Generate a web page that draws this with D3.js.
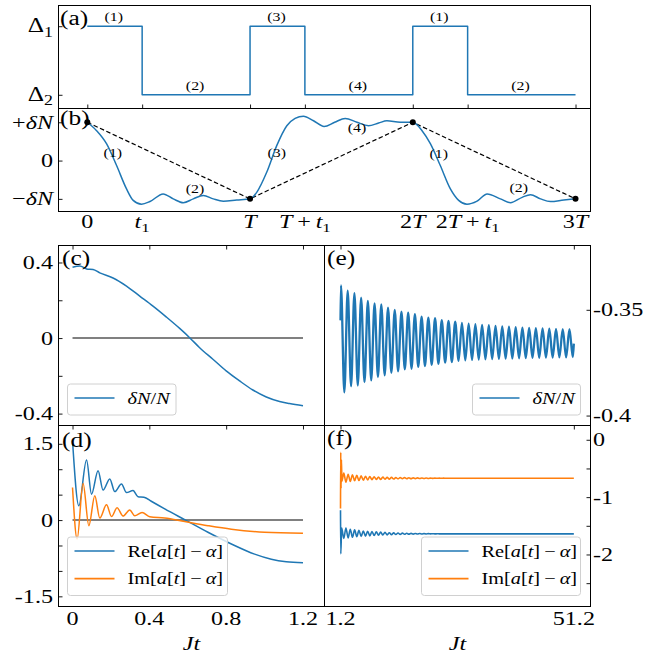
<!DOCTYPE html>
<html lang="en">
<head>
<meta charset="UTF-8" />
<title>Driving protocol and dynamics</title>
<script src="https://d3js.org/d3.v7.min.js"></script>
<style>
  body { margin: 0; background: #fff; }
  svg { display: block; }
  text { font-family: "Liberation Serif", "Times New Roman", serif; fill: #000; }
</style>
</head>
<body>
<svg width="660" height="657"></svg>
<script>
// ---------- data ----------
// (a) step protocol, time in units of T
const t1 = 0.337;
const stepTimes = [0, t1, 1, 1 + t1, 2, 2 + t1, 3];
const stepLevels = [1, 0, 1, 0, 1, 0];          // 1 = Δ1, 0 = Δ2
const stageLabels = ["(1)", "(2)", "(3)", "(4)", "(1)", "(2)"];

// (b) population imbalance, in units of δN
const bT = [0, 0.057, 0.118, 0.18, 0.241, 0.282, 0.333, 0.385, 0.466, 0.528, 0.59, 0.651, 0.713, 0.774, 0.836, 0.918, 1.0,
            1.041, 1.103, 1.164, 1.226, 1.277, 1.328, 1.39, 1.455, 1.52, 1.585, 1.657, 1.728, 1.79, 1.841, 1.923, 2.0,
            2.057, 2.108, 2.169, 2.231, 2.282, 2.333, 2.395, 2.457, 2.538, 2.6, 2.672, 2.723, 2.785, 2.846, 2.928, 3.0];
const bV = [1.0, 0.78, 0.44, -0.13, -0.74, -1.04, -1.14, -1.07, -0.87, -1.0, -1.10, -1.0, -0.91, -1.0, -1.06, -1.03, -1.0,
            -0.83, -0.30, 0.39, 0.91, 1.10, 1.16, 1.04, 0.89, 1.0, 1.10, 1.0, 0.91, 0.98, 1.04, 1.0, 1.0,
            0.78, 0.44, -0.13, -0.74, -1.04, -1.14, -1.06, -0.87, -1.0, -1.10, -0.96, -0.89, -1.0, -1.07, -1.03, -1.0];
const bDashT = [0, 1, 2, 3];
const bDashV = [1, -1, 1, -1];
const bLabelT = [0.157, 0.662, 1.164, 1.657, 2.159, 2.651];
const bLabelV = [0.22, -0.73, 0.22, 0.87, 0.18, -0.70];
const bTickLabels = [
  [["0", ""]],
  [["t", "i"], ["1", "sub"]],
  [["T", "i"]],
  [["T", "i"], ["\u2009+\u2009", ""], ["t", "i"], ["1", "sub"]],
  [["2", ""], ["T", "i"]],
  [["2", ""], ["T", "i"], ["\u2009+\u2009", ""], ["t", "i"], ["1", "sub"]],
  [["3", ""], ["T", "i"]]
];

// (c) δN/N for 0 <= Jt <= 1.2
const cT = [0, 0.038, 0.073, 0.107, 0.142, 0.211, 0.281, 0.35, 0.419, 0.489, 0.558, 0.61, 0.662, 0.731, 0.80, 0.87, 0.939, 1.009, 1.078, 1.13, 1.2];
const cV = [0.375, 0.382, 0.366, 0.363, 0.345, 0.318, 0.275, 0.222, 0.169, 0.111, 0.051, 0.002, -0.051, -0.112, -0.174, -0.227, -0.275, -0.312, -0.336, -0.347, -0.359];

// (d) Re / Im [a(t) - α]
const dReT = [0, 0.033, 0.073, 0.099, 0.133, 0.159, 0.194, 0.22, 0.255, 0.281, 0.315, 0.341, 0.372, 0.41, 0.48, 0.593, 0.705, 0.827, 0.948, 1.035, 1.113, 1.2];
const dReV = [1.56, 0.28, 1.18, 0.51, 0.97, 0.59, 0.81, 0.56, 0.71, 0.54, 0.58, 0.46, 0.45, 0.37, 0.22, -0.01, -0.24, -0.47, -0.67, -0.77, -0.82, -0.84];
const dImT = [0, 0.024, 0.055, 0.085, 0.116, 0.142, 0.177, 0.203, 0.232, 0.263, 0.298, 0.324, 0.362, 0.402, 0.48, 0.584, 0.705, 0.827, 1.0, 1.2];
const dImV = [0.64, -0.37, 0.72, -0.11, 0.48, 0.04, 0.30, 0.07, 0.24, 0.08, 0.20, 0.085, 0.15, 0.065, 0.04, -0.03, -0.11, -0.18, -0.24, -0.26];

// (e) δN/N for 1.2 <= Jt <= 51.2 : successive maxima / minima of the fast oscillation
const eStart = [1.2, -0.355];
const eFirst = 1.3, ePeriod = 1.44;
const eTop = [-0.3385, -0.3410, -0.3421, -0.3442, -0.3458, -0.3470, -0.3474, -0.3490, -0.3501, -0.3509, -0.3513, -0.3521,
              -0.3532, -0.3537, -0.3540, -0.3549, -0.3553, -0.3556, -0.3562, -0.3565, -0.3568, -0.3571, -0.3573, -0.3576,
              -0.3578, -0.3580, -0.3582, -0.3584, -0.3585, -0.3587, -0.3588, -0.3589, -0.3590, -0.3591, -0.3592];
const eBot = [-0.3890, -0.3861, -0.3858, -0.3842, -0.3834, -0.3818, -0.3810, -0.3798, -0.3791, -0.3782, -0.3779, -0.3770,
              -0.3766, -0.3760, -0.3755, -0.3750, -0.3747, -0.3741, -0.3739, -0.3737, -0.3735, -0.3734, -0.3733, -0.3732,
              -0.3731, -0.3730, -0.3729, -0.3728, -0.3727, -0.3727, -0.3726, -0.3726, -0.3725, -0.3725, -0.3724];
const eEnd = [51.2, -0.366];

// (f) Re / Im [a(t) - α] for 1.2 <= Jt <= 51.2
const fReHeadT = [1.2, 1.26, 1.45];
const fReHeadV = [-1.23, -1.99, -1.54];
const fImHeadT = [1.2, 1.25, 1.32, 1.4, 1.5];
const fImHeadV = [-1.2, -0.22, -0.85, -0.35, -0.72];
const fFirst = 1.9, fPeriod = 0.93;
const fReBot = [-1.72, -1.71, -1.70, -1.69, -1.685, -1.68, -1.675, -1.67, -1.665, -1.66, -1.658, -1.655, -1.652, -1.65, -1.648,
                -1.646, -1.645, -1.644, -1.643, -1.642, -1.641, -1.641, -1.640, -1.640, -1.640, -1.640, -1.640, -1.640, -1.640, -1.640];
const fReTop = [-1.54, -1.56, -1.57, -1.58, -1.59, -1.595, -1.60, -1.605, -1.61, -1.615, -1.62, -1.622, -1.625, -1.628, -1.63,
                -1.632, -1.634, -1.635, -1.636, -1.637, -1.638, -1.639, -1.640, -1.640, -1.640, -1.640, -1.640, -1.640, -1.640, -1.640];
const fImTop = [-0.58, -0.60, -0.61, -0.62, -0.63, -0.635, -0.64, -0.645, -0.65, -0.65, -0.655, -0.655, -0.66, -0.66, -0.66,
                -0.662, -0.664, -0.665, -0.666, -0.667, -0.668, -0.668, -0.669, -0.669, -0.67, -0.67, -0.67, -0.67, -0.67, -0.67];
const fImBot = [-0.74, -0.725, -0.715, -0.71, -0.705, -0.70, -0.695, -0.692, -0.69, -0.688, -0.686, -0.684, -0.682, -0.68, -0.679,
                -0.678, -0.677, -0.676, -0.675, -0.674, -0.673, -0.672, -0.671, -0.671, -0.67, -0.67, -0.67, -0.67, -0.67, -0.67];
const fReEnd = [51.2, -1.64];
const fImEnd = [51.2, -0.67];

// ticks
const cdTicks = [0, 0.4, 0.8, 1.2];
const efTicks = [1.2, 51.2];
const cTicks = [-0.4, -0.2, 0, 0.2, 0.4], cLabels = ["-0.4", "", "0", "", "0.4"];
const dTicks = [-1.5, -1, -0.5, 0, 0.5, 1, 1.5], dLabels = ["-1.5", "", "", "0", "", "", "1.5"];
const eTicks = [-0.4, -0.35], eLabels = ["-0.4", "-0.35"];
const fTicks = [-2.5, -2, -1.5, -1, -0.5, 0], fLabels = ["", "-2", "", "-1", "", "0"];

// ---------- layout ----------
const BLUE = "#1f77b4", ORANGE = "#ff7f0e", GRAY = "#808080";
const SX = 1.27;            // glyphs in the reference are stretched horizontally
const svg = d3.select("svg");

const L = 58.5, M = 324.5, R = 590.5;
const xAB = d3.scaleLinear().domain([-0.177, 3.092]).range([L, R]);
const yA = d3.scaleLinear().domain([-0.2, 1.302]).range([108.5, 5.5]);
const yB = d3.scaleLinear().domain([-1.33, 1.36]).range([211.5, 108.5]);
const xCD = d3.scaleLinear().domain([-0.073, 1.312]).range([L, M]);
const yC = d3.scaleLinear().domain([-0.463, 0.49]).range([425.5, 245.5]);
const yD = d3.scaleLinear().domain([-1.70, 1.86]).range([606.5, 425.5]);
const xEF = d3.scaleLinear().domain([-2.23, 54.77]).range([M, R]);
const yE = d3.scaleLinear().domain([-0.4047, -0.3196]).range([425.5, 245.5]);
const yF = d3.scaleLinear().domain([-2.907, 0.249]).range([606.5, 425.5]);

function rich(g, x, y, parts, o = {}) {
  if (typeof parts === "string") parts = [[parts, ""]];
  const size = o.size || 19;
  const t = g.append("text")
    .attr("transform", `translate(${x},${y}) scale(${SX},1)`)
    .attr("text-anchor", o.anchor || "start")
    .attr("font-size", size);
  let down = false;
  parts.forEach(([s, f]) => {
    const ts = t.append("tspan").text(s);
    if (f === "i") ts.attr("font-style", "italic");
    if (f === "sub") {
      ts.attr("font-size", size * 0.7).attr("dy", size * 0.22);
      down = true;
    } else if (down) {
      ts.attr("dy", -size * 0.22);
      down = false;
    }
  });
  return t;
}

let clipId = 0;
function panel(xs, ys) {
  const [x0, x1] = xs.range(), [y0, y1] = [ys.range()[1], ys.range()[0]];
  const id = "clip" + (clipId++);
  svg.append("clipPath").attr("id", id)
    .append("rect").attr("x", x0).attr("y", y0).attr("width", x1 - x0).attr("height", y1 - y0);
  const g = svg.append("g").attr("clip-path", `url(#${id})`);
  return { g, x0, x1, y0, y1 };
}

function frame(p) {
  svg.append("rect")
    .attr("x", p.x0).attr("y", p.y0)
    .attr("width", p.x1 - p.x0).attr("height", p.y1 - p.y0)
    .attr("fill", "none").attr("stroke", "#000").attr("stroke-width", 1);
}

function ticks(axis, values, tx, ty) {
  const g = svg.append("g").attr("transform", `translate(${tx},${ty})`)
    .call(axis.tickValues(values).tickSize(-4).tickSizeOuter(0).tickFormat(""));
  g.select(".domain").remove();
  g.selectAll(".tick line").attr("stroke", "#000").attr("stroke-width", 0.9);
}

function line(g, pts, xs, ys, color, w = 1.5, curve = d3.curveMonotoneX) {
  return g.append("path").datum(pts)
    .attr("d", d3.line().x(d => xs(d[0])).y(d => ys(d[1])).curve(curve))
    .attr("fill", "none").attr("stroke", color).attr("stroke-width", w)
    .attr("stroke-linejoin", "round");
}

function train(first, period, tops, bots) {
  const pts = [];
  tops.forEach((v, i) => {
    pts.push([first + i * period, v]);
    pts.push([first + (i + 0.5) * period, bots[i]]);
  });
  return pts;
}

function legend(x, y, w, h, items) {
  const g = svg.append("g").attr("transform", `translate(${x},${y})`);
  g.append("rect").attr("width", w).attr("height", h).attr("rx", 3)
    .attr("fill", "#fff").attr("fill-opacity", 0.8)
    .attr("stroke", "#d0d0d0").attr("stroke-width", 1);
  items.forEach((it, i) => {
    const cy = 14 + i * 27.6;
    g.append("line").attr("x1", 7).attr("x2", 47).attr("y1", cy).attr("y2", cy)
      .attr("stroke", it.color).attr("stroke-width", 1.6);
    rich(g, 60, cy + 5.5, it.text, { size: 16 });
  });
}

// ---------- (a) ----------
const pA = panel(xAB, yA);
const stepPts = stepLevels.map((v, i) => [stepTimes[i], v]).concat([[stepTimes[6], stepLevels[5]]]);
line(pA.g, stepPts, xAB, yA, BLUE, 1.5, d3.curveStepAfter);
stageLabels.forEach((s, i) => {
  const mid = (stepTimes[i] + stepTimes[i + 1]) / 2;
  rich(svg, xAB(mid) - 1, yA(stepLevels[i]) - 5, s, { size: 12.5, anchor: "middle" });
});
frame(pA);
ticks(d3.axisLeft(yA), [0, 1], L, 0);
ticks(d3.axisBottom(xAB), stepTimes, 0, pA.y1);
rich(svg, 53, yA(1) + 6, [["Δ", ""], ["1", "sub"]], { size: 20, anchor: "end" });
rich(svg, 53, yA(0) + 6, [["Δ", ""], ["2", "sub"]], { size: 20, anchor: "end" });
rich(svg, 60, 24.5, "(a)", { size: 20 });

// ---------- (b) ----------
const pB = panel(xAB, yB);
pB.g.append("path").datum(d3.zip(bDashT, bDashV))
  .attr("d", d3.line().x(d => xAB(d[0])).y(d => yB(d[1])))
  .attr("fill", "none").attr("stroke", "#000").attr("stroke-width", 1.2)
  .attr("stroke-dasharray", "4.5,2.5");
line(pB.g, d3.zip(bT, bV), xAB, yB, BLUE, 1.5);
svg.append("g").selectAll("circle").data(d3.zip(bDashT, bDashV)).join("circle")
  .attr("cx", d => xAB(d[0])).attr("cy", d => yB(d[1])).attr("r", 3).attr("fill", "#000");
bLabelT.forEach((t, i) => rich(svg, xAB(t), yB(bLabelV[i]) + 4.5, stageLabels[i], { size: 12.5, anchor: "middle" }));
frame(pB);
ticks(d3.axisLeft(yB), [-1, 0, 1], L, 0);
rich(svg, 53, yB(1) + 6.5, [["+", ""], ["δN", "i"]], { anchor: "end" });
rich(svg, 53, yB(0) + 6.5, "0", { anchor: "end" });
rich(svg, 53, yB(-1) + 6.5, [["\u2212", ""], ["δN", "i"]], { anchor: "end" });
stepTimes.forEach((t, i) => rich(svg, xAB(t), 228, bTickLabels[i], { anchor: "middle" }));
rich(svg, 60, 125, "(b)", { size: 20 });

// ---------- (c) ----------
const pC = panel(xCD, yC);
line(pC.g, [[0, 0], [1.2, 0]], xCD, yC, GRAY, 2, d3.curveLinear);
line(pC.g, d3.zip(cT, cV), xCD, yC, BLUE, 1.5);
frame(pC);
ticks(d3.axisLeft(yC), cTicks, L, 0);
ticks(d3.axisTop(xCD), cdTicks, 0, pC.y0);
cTicks.forEach((v, i) => cLabels[i] && rich(svg, 53, yC(v) + 6.5, cLabels[i], { anchor: "end" }));
rich(svg, 62, 265, "(c)", { size: 20 });
legend(67.5, 384, 108.5, 31, [{ color: BLUE, text: [["δN", "i"], ["/", ""], ["N", "i"]] }]);

// ---------- (d) ----------
const pD = panel(xCD, yD);
line(pD.g, [[0, 0], [1.2, 0]], xCD, yD, GRAY, 2, d3.curveLinear);
line(pD.g, d3.zip(dReT, dReV), xCD, yD, BLUE, 1.5);
line(pD.g, d3.zip(dImT, dImV), xCD, yD, ORANGE, 1.5);
frame(pD);
ticks(d3.axisLeft(yD), dTicks, L, 0);
ticks(d3.axisTop(xCD), cdTicks, 0, pD.y0);
dTicks.forEach((v, i) => dLabels[i] && rich(svg, 53, yD(v) + 6.5, dLabels[i], { anchor: "end" }));
cdTicks.forEach(v => rich(svg, xCD(v), 625, String(v), { anchor: "middle" }));
rich(svg, (pD.x0 + pD.x1) / 2, 650, [["Jt", "i"]], { anchor: "middle" });
rich(svg, 62, 447, "(d)", { size: 20 });

const reaLegend = [["Re[", ""], ["a", "i"], ["[", ""], ["t", "i"], ["]\u2009\u2212\u2009", ""], ["α", "i"], ["]", ""]];
const imaLegend = [["Im[", ""], ["a", "i"], ["[", ""], ["t", "i"], ["]\u2009\u2212\u2009", ""], ["α", "i"], ["]", ""]];
legend(67.5, 537, 160, 58.5, [{ color: BLUE, text: reaLegend }, { color: ORANGE, text: imaLegend }]);

// ---------- (e) ----------
const pE = panel(xEF, yE);
line(pE.g, [eStart].concat(train(eFirst, ePeriod, eTop, eBot), [eEnd]), xEF, yE, BLUE, 2.3);
frame(pE);
ticks(d3.axisRight(yE), eTicks, R, 0);
ticks(d3.axisTop(xEF), efTicks, 0, pE.y0);
eTicks.forEach((v, i) => rich(svg, 593, yE(v) + 6.5, eLabels[i]));
rich(svg, 327, 265, "(e)", { size: 20 });
legend(472.5, 384, 108, 31, [{ color: BLUE, text: [["δN", "i"], ["/", ""], ["N", "i"]] }]);

// ---------- (f) ----------
const pF = panel(xEF, yF);
const fRe = d3.zip(fReHeadT, fReHeadV).concat(train(fFirst, fPeriod, fReBot, fReTop), [fReEnd]);
const fIm = d3.zip(fImHeadT, fImHeadV).concat(train(fFirst, fPeriod, fImTop, fImBot), [fImEnd]);
line(pF.g, fRe, xEF, yF, BLUE, 1.6);
line(pF.g, fIm, xEF, yF, ORANGE, 1.6);
frame(pF);
ticks(d3.axisRight(yF), fTicks, R, 0);
ticks(d3.axisTop(xEF), efTicks, 0, pF.y0);
fTicks.forEach((v, i) => fLabels[i] && rich(svg, 593, yF(v) + 6.5, fLabels[i]));
efTicks.forEach(v => rich(svg, xEF(v), 625, String(v), { anchor: "middle" }));
rich(svg, (pF.x0 + pF.x1) / 2, 650, [["Jt", "i"]], { anchor: "middle" });
rich(svg, 327, 445, "(f)", { size: 20 });
legend(421.5, 537, 159, 58.5, [{ color: BLUE, text: reaLegend }, { color: ORANGE, text: imaLegend }]);
</script>
</body>
</html>
